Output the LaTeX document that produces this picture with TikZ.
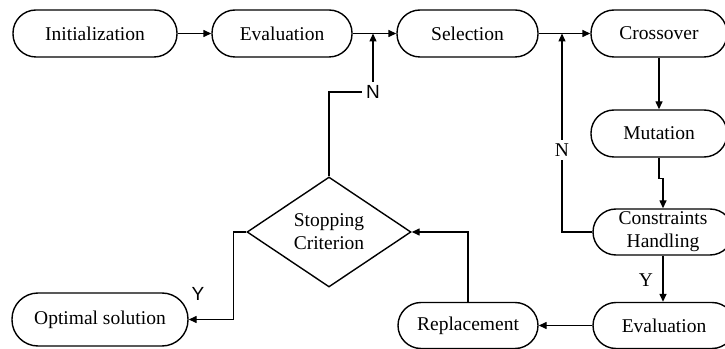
\documentclass[tikz,border=0pt]{standalone}
\usepackage{fontspec}
\setmainfont{Liberation Serif}
\newfontfamily\arialfont{Liberation Sans}
\usetikzlibrary{arrows.meta,shapes.geometric}
\begin{document}
\begin{tikzpicture}[x=1pt,y=1pt,
  line width=1.4pt,
  box/.style={draw,line width=1.4pt,rounded corners=23pt,minimum height=47pt,inner sep=0pt,
    font=\fontsize{19.5}{23}\selectfont,align=center},
  dia/.style={draw,diamond,line width=1.4pt,inner sep=0pt,minimum width=164pt,minimum height=110pt,
    font=\fontsize{19.5}{23}\selectfont,align=center},
  lblsans/.style={inner sep=3pt,font=\arialfont\fontsize{19}{22}\selectfont},
  lblserif/.style={inner sep=3pt,font=\fontsize{19.5}{23}\selectfont},
  arr/.style={-{Triangle[length=8pt,width=7pt]}},
]
\clip (0,0) rectangle (725,348);
\node[box,minimum width=164pt] (init) at (95,314.5) {Initialization};
\node[box,minimum width=140pt] (evala) at (282,314.5) {Evaluation};
\node[box,minimum width=141pt] (sel) at (467.5,314.5) {Selection};
\node[box,minimum width=136pt] (cross) at (659,314.5) {Crossover};
\node[box,minimum width=136pt] (mut) at (659,214.5) {Mutation};
\node[box,minimum width=140pt,minimum height=46pt] (cons) at (663,116) {Constraints\\Handling};
\node[box,minimum width=142pt,minimum height=46pt] (evalb) at (664,22.5) {Evaluation};
\node[box,minimum width=140pt,minimum height=46pt] (repl) at (468,22.5) {Replacement};
\node[dia] (stop) at (329,116) {Stopping\\Criterion};
\node[box,minimum width=176pt,minimum height=53pt,rounded corners=26pt] (opt) at (100,28.5) {Optimal solution};

\node[lblsans] (nA) at (373,256) {N};
\node[lblserif] (nB) at (562,198) {N};
\node[lblserif] (yA) at (646,68) {Y};
\node[lblsans] (yB) at (198,54) {Y};

\draw[arr] (init) -- (evala);
\draw[arr] (evala) -- (sel);
\draw[arr] (sel) -- (cross);
\draw[arr] (cross.south) -- (mut.north);
\draw[arr] (mut.south) -- ++(0,-21) -| (cons.north);
\draw[arr] (cons.south) -- (cons.south |- evalb.north);
\draw[arr] (evalb.west) -- (repl.east);
\draw[arr] (repl.north) |- (stop.east);
\draw[arr] (stop.west) -- ++(-13,0) |- (opt.east);
\draw (stop.north) |- (nA.west);
\draw[arr] (nA.north) -- (nA.north |- evala.east);
\draw (cons.west) -| (nB.south);
\draw[arr] (nB.north) -- (nB.north |- sel.east);
\end{tikzpicture}
\end{document}
